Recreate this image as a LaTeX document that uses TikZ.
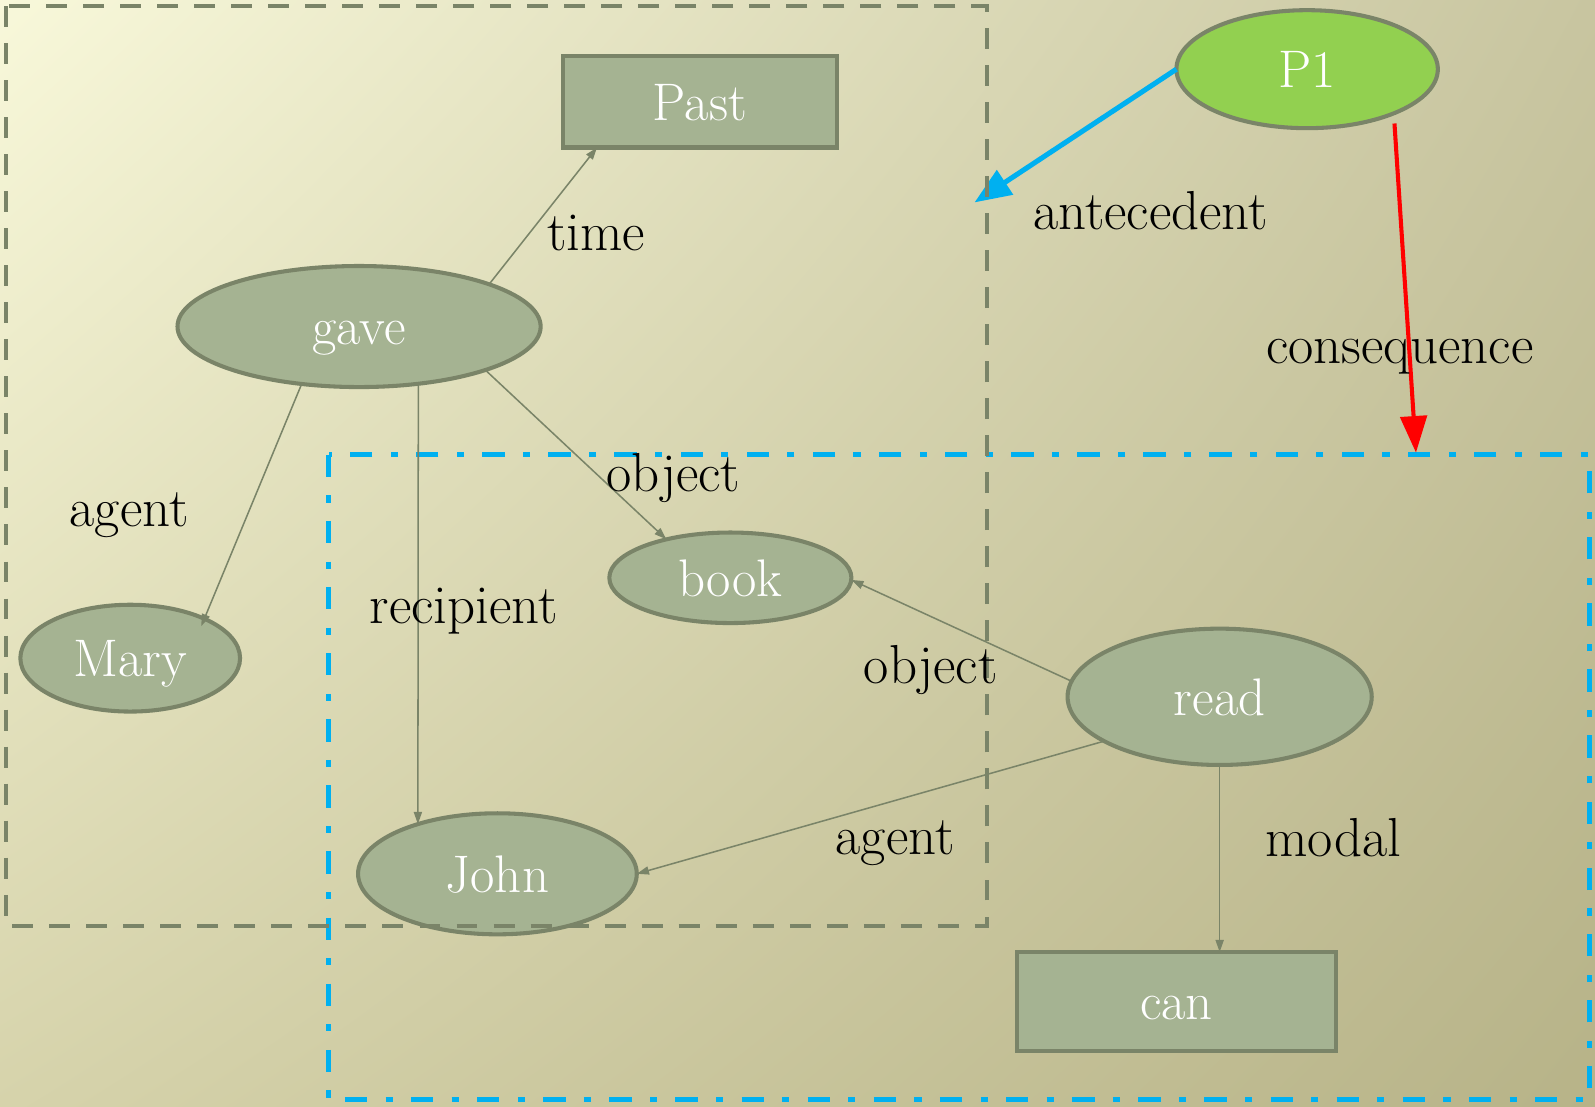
\documentclass[tikz,border=0pt]{standalone}
\usetikzlibrary{arrows.meta,shapes.geometric,calc,shadings}

% palette
\definecolor{bgTL}{RGB}{248,248,218}
\definecolor{bgTR}{RGB}{200,197,160}
\definecolor{bgBL}{RGB}{214,211,171}
\definecolor{bgBR}{RGB}{183,179,136}
\definecolor{nodefill}{RGB}{165,179,146}
\definecolor{nodeline}{RGB}{122,132,104}
\definecolor{propfill}{RGB}{146,208,80}
\definecolor{cyanline}{RGB}{0,176,240}
\definecolor{redline}{RGB}{255,0,0}

\begin{document}
\begin{tikzpicture}[
  x=0.5pt, y=-0.5pt,
  nodefont/.style={font=\fontsize{26}{30}\selectfont},
  labfont/.style={font=\fontsize{27}{31}\selectfont},
  concept/.style={ellipse, draw=nodeline, line width=2pt, fill=nodefill,
    text=white, nodefont, inner sep=0pt, outer sep=0pt,
    text height=18pt, text depth=0pt},
  propnode/.style={concept, fill=propfill},
  attrbox/.style={rectangle, draw=nodeline, line width=2pt, fill=nodefill,
    text=white, nodefont, inner sep=0pt, outer sep=0pt,
    text height=18pt, text depth=0pt},
  rel/.style={draw=nodeline, line width=0.75pt,
    -{Triangle[length=6pt,width=4pt]}},
  lab/.style={labfont, text=black, inner sep=0pt, anchor=base},
  groupframe/.style={draw=nodeline, line width=2pt,
    dash pattern=on 10.3pt off 7.9pt},
  condframe/.style={draw=cyanline, line width=2.5pt,
    dash pattern=on 11pt off 9pt on 3.5pt off 9pt},
]
% background
\useasboundingbox (0,0) rectangle (1568,1088);
\shade[upper left=bgTL, upper right=bgTR, lower left=bgBL, lower right=bgBR]
  (0,0) rectangle (1568,1088);

% consequence frame
\draw[condframe] (323,447) rectangle (1563,1081);

% concepts
\node[attrbox, minimum width=134.5pt, minimum height=45pt] (Past) at (688,100) {Past};
\node[propnode, minimum width=128.5pt, minimum height=58pt] (P1) at (1285,68) {P1};
\node[concept, minimum width=178.5pt, minimum height=59.5pt] (gave) at (353,321) {gave};
\node[concept, minimum width=119pt, minimum height=44.5pt] (book) at (718,568) {book};
\node[concept, minimum width=108pt, minimum height=52.5pt] (Mary) at (128,647) {Mary};
\node[concept, minimum width=149.5pt, minimum height=67pt] (read) at (1199,685) {read};
\node[concept, minimum width=137pt, minimum height=59.5pt] (John) at (489,859) {John};
\node[attrbox, minimum width=156.5pt, minimum height=48.5pt] (can) at (1156.5,984.5) {can};

% free ends of the proposition arrows
\coordinate (antend) at (958,199);
\coordinate (consend) at (1392,445);

% relations
\draw[rel] (gave.18.6) -- (Past.-156);
\draw[rel] (gave.-19) -- (book.149.2);
\draw[rel, shorten >=-4pt] (gave.-135) -- (Mary.28.2);
\draw[rel] (gave.-44.7) -- (John.148.4);
\draw[rel] (read.174.6) -- (book.-1);
\draw[rel] (read.-159.3) -- (John.east);
\draw[rel] (read.south) -- (read.south |- can.north);

% proposition arrows
\draw[draw=cyanline, line width=2.5pt, -{Triangle[length=18pt,width=14pt]}]
  (P1.west) -- (antend);
\draw[draw=redline, line width=2pt, -{Triangle[length=18pt,width=13pt]},
  shorten <=5pt] (P1.-27.1) -- (consend);

% antecedent frame
\draw[groupframe] (6,6) rectangle (970,910);

% relation labels (placed on their baselines)
\node[lab] (lbltime) at (586,246) {time};
\node[lab] (lblobj1) at (662,483) {object};
\node[lab] (lblag1) at (127,518) {agent};
\node[lab] (lblrec) at (456,613) {recipient};
\node[lab] (lblobj2) at (915,671.5) {object};
\node[lab] (lblag2) at (880,840.5) {agent};
\node[lab] (lblmod) at (1311,842) {modal};
\node[lab] (lblant) at (1131,226) {antecedent};
\node[lab] (lblcons) at (1376,357) {consequence};
\end{tikzpicture}
\end{document}
